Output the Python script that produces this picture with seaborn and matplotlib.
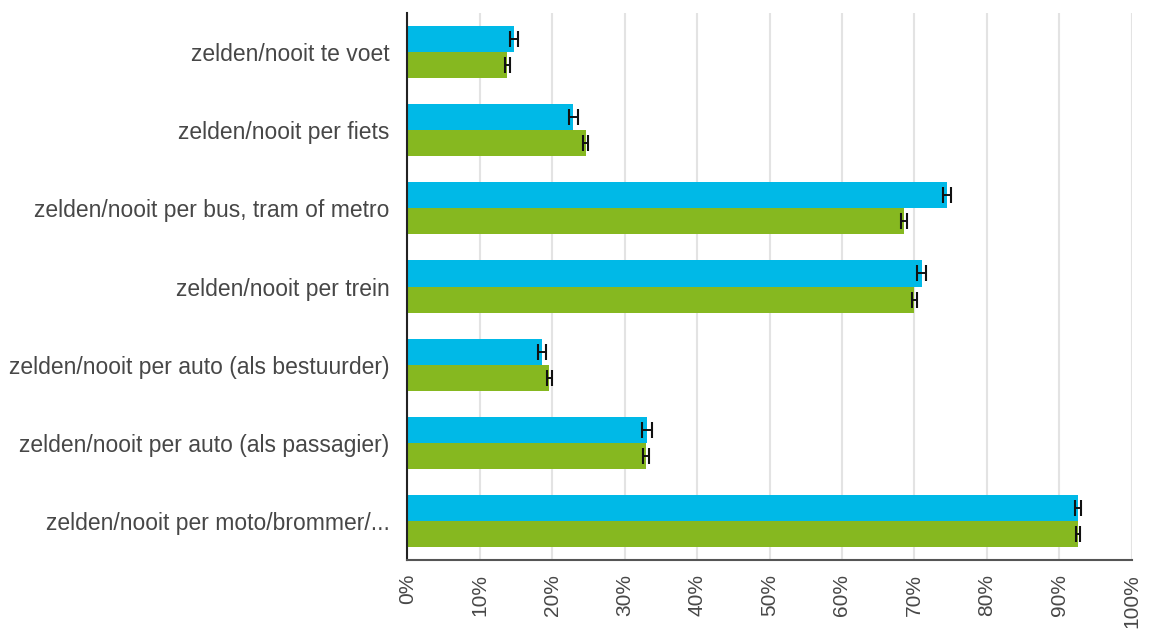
import matplotlib
matplotlib.use("Agg")
import matplotlib.pyplot as plt
from matplotlib.ticker import FuncFormatter
import numpy as np
import pandas as pd
import seaborn as sns

# Categories (top to bottom)
categories = [
    "zelden/nooit te voet",
    "zelden/nooit per fiets",
    "zelden/nooit per bus, tram of metro",
    "zelden/nooit per trein",
    "zelden/nooit per auto (als bestuurder)",
    "zelden/nooit per auto (als passagier)",
    "zelden/nooit per moto/brommer/...",
]
series_names = ["reeks 1", "reeks 2"]

# Shares in percent and their error margins
values_1 = [14.7, 22.9, 74.5, 71.0, 18.6, 33.1, 92.6]
values_2 = [13.8, 24.6, 68.6, 70.0, 19.6, 32.9, 92.6]
errors_1 = [0.55, 0.6, 0.6, 0.6, 0.55, 0.65, 0.45]
errors_2 = [0.3, 0.35, 0.4, 0.35, 0.35, 0.4, 0.3]

x_ticks = [0, 10, 20, 30, 40, 50, 60, 70, 80, 90, 100]

colors = ["#00B9E7", "#86B820"]
text_color = "#474747"

df = pd.DataFrame({
    "categorie": categories * 2,
    "reeks": [series_names[0]] * len(categories) + [series_names[1]] * len(categories),
    "waarde": values_1 + values_2,
    "fout": errors_1 + errors_2,
})

sns.set_theme(style="white")
plt.rcParams["font.family"] = ["Liberation Sans", "DejaVu Sans"]

fig = plt.figure(figsize=(11.5, 6.29), dpi=100)
ax = fig.add_axes([0.3543, 0.1097, 0.6297, 0.8696])

sns.barplot(
    data=df, y="categorie", x="waarde", hue="reeks",
    order=categories, hue_order=series_names,
    palette=colors, orient="h", width=0.667,
    errorbar=None, saturation=1, linewidth=0, legend=False, ax=ax,
)

# Error bars at the centre of each bar end
for container, name in zip(ax.containers, series_names):
    sub = df[df["reeks"] == name].set_index("categorie").loc[categories]
    ys = [p.get_y() + p.get_height() / 2 for p in container.patches]
    ax.errorbar(
        sub["waarde"].values, ys, xerr=sub["fout"].values,
        fmt="none", ecolor="#111111", elinewidth=1.4,
        capsize=6, capthick=1.5, zorder=5,
    )

ax.set_xlim(0, 100)
ax.set_ylim(len(categories) - 0.5, -0.5)
ax.set_xticks(x_ticks)
ax.xaxis.set_major_formatter(FuncFormatter(lambda v, _: f"{v:.0f}%"))
ax.set_xlabel("")
ax.set_ylabel("")

ax.grid(axis="x", color="#e3e3e3", linewidth=1.5)
ax.grid(axis="y", visible=False)
ax.set_axisbelow(True)

for side in ["top", "right"]:
    ax.spines[side].set_visible(False)
ax.spines["left"].set_color("#222222")
ax.spines["left"].set_linewidth(1.5)
ax.spines["bottom"].set_color("#555555")
ax.spines["bottom"].set_linewidth(1.5)

ax.tick_params(axis="x", length=0, pad=10, labelsize=15, labelcolor=text_color,
               labelrotation=90)
ax.tick_params(axis="y", length=0, pad=13, labelsize=16.5, labelcolor=text_color)

fig.savefig("out.png", dpi=100, facecolor="white")
